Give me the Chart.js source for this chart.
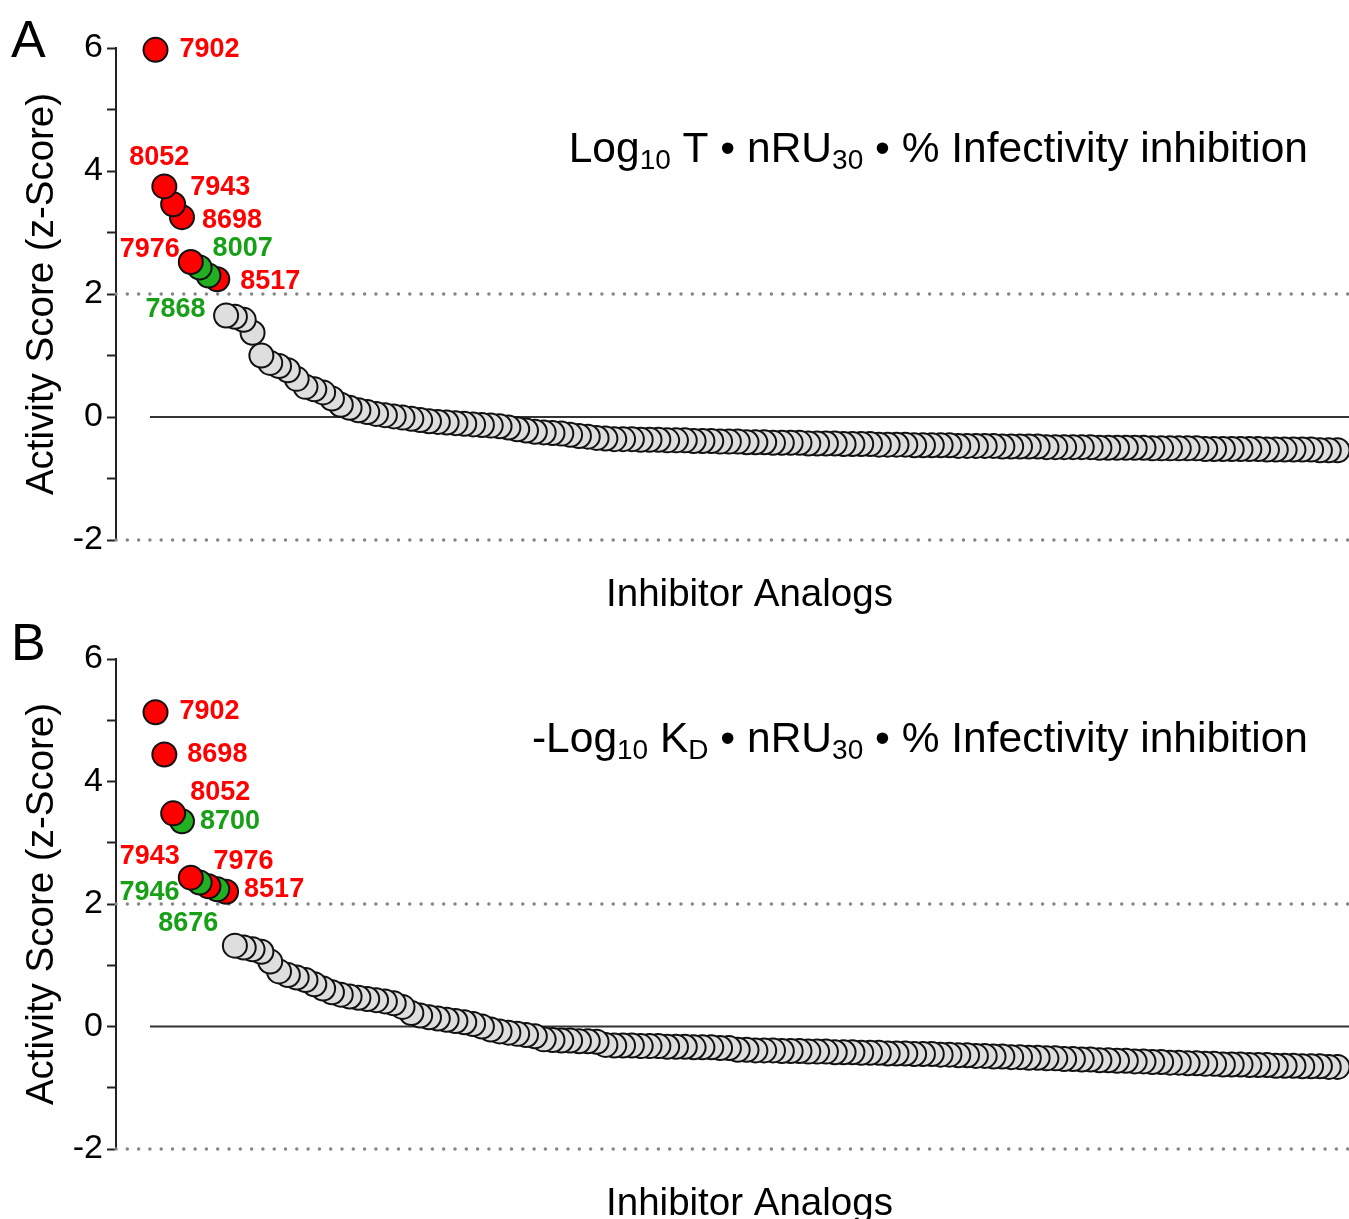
<!DOCTYPE html>
<html>
<head>
<meta charset="utf-8">
<script src="https://cdn.jsdelivr.net/npm/chart.js@4.4.1/dist/chart.umd.min.js"></script>
<style>
  html, body { margin: 0; padding: 0; background: #fff; overflow: hidden; width: 1349px; height: 1219px; }
  .panel { position: absolute; left: 0; display: block; }
  #panelA { top: 0; }
  #panelB { top: 610px; }
</style>
</head>
<body>
<canvas id="panelA" class="panel" width="1349" height="625"></canvas>
<canvas id="panelB" class="panel" width="1349" height="609"></canvas>
<script>
// ============================================================================
// DATA (z-scores, ranked high to low)
// ============================================================================

const scoresA = [
    5.97, 3.75, 3.46, 3.25, 2.52, 2.43, 2.30, 2.24,
    1.65, 1.63, 1.58, 1.37, 1.00, 0.88, 0.83, 0.76,
    0.62, 0.49, 0.45, 0.40, 0.30, 0.20, 0.15, 0.11,
    0.08, 0.05, 0.03, 0.01, -0.01, -0.03, -0.05, -0.07,
    -0.08, -0.09, -0.10, -0.11, -0.12, -0.13, -0.14, -0.15,
    -0.17, -0.20, -0.22, -0.24, -0.25, -0.26, -0.27, -0.29,
    -0.31, -0.32, -0.34, -0.35, -0.36,
    -0.36, -0.36, -0.37, -0.37, -0.37, -0.38, -0.38, -0.38, -0.39, -0.39,
    -0.39, -0.40, -0.40, -0.40, -0.41, -0.41, -0.41, -0.42, -0.42, -0.42,
    -0.42, -0.43, -0.43, -0.43, -0.43, -0.44, -0.44, -0.44, -0.44, -0.45,
    -0.45, -0.45, -0.45, -0.46, -0.46, -0.46, -0.46, -0.46, -0.47, -0.47,
    -0.47, -0.47, -0.47, -0.48, -0.48, -0.48, -0.48, -0.48, -0.49, -0.49,
    -0.49, -0.49, -0.49, -0.49, -0.50, -0.50, -0.50, -0.50, -0.50, -0.50,
    -0.51, -0.51, -0.51, -0.51, -0.51, -0.51, -0.52, -0.52, -0.52, -0.52,
    -0.52, -0.52, -0.52, -0.53, -0.53, -0.53, -0.53, -0.53, -0.53, -0.54, -0.54, -0.54
];

const scoresB = [
    5.13, 4.44, 3.48, 3.35, 2.43, 2.35, 2.29, 2.24, 2.20,
    1.32, 1.29, 1.26, 1.22, 1.06, 0.90, 0.84, 0.80, 0.76,
    0.69, 0.62, 0.56, 0.52, 0.49, 0.47, 0.45, 0.43, 0.41, 0.38,
    0.32, 0.22, 0.18, 0.15, 0.13, 0.11, 0.09, 0.07, 0.04, 0.00,
    -0.05, -0.08, -0.10, -0.12, -0.14, -0.16, -0.21,
    -0.22, -0.23, -0.23, -0.24, -0.24, -0.25,
    -0.30, -0.31, -0.31, -0.31, -0.32, -0.32, -0.32, -0.33, -0.33, -0.33, -0.34, -0.34, -0.34, -0.35, -0.35,
    -0.38, -0.38, -0.39, -0.39, -0.39, -0.40, -0.40, -0.40, -0.41, -0.41, -0.41, -0.42, -0.42,
    -0.42, -0.43, -0.43, -0.43, -0.44, -0.44, -0.44, -0.45, -0.45, -0.45, -0.46, -0.46, -0.47,
    -0.47, -0.48, -0.48, -0.49, -0.49, -0.50, -0.50, -0.51, -0.51, -0.52,
    -0.52, -0.53, -0.53, -0.54, -0.54, -0.55, -0.55, -0.56, -0.56, -0.57,
    -0.57, -0.58, -0.58, -0.59, -0.59, -0.60, -0.60, -0.61, -0.61, -0.62,
    -0.62, -0.62, -0.63, -0.63, -0.63, -0.64, -0.64, -0.64, -0.65, -0.65,
    -0.65, -0.66, -0.66
];

// top-ranked compounds (in rank order) and their group
const hitNamesA = ['7902', '8052', '7943', '8698', '7976', '8007', '7868', '8517'];
const hitGroupsA = ['red', 'red', 'red', 'red', 'red', 'green', 'green', 'red'];

const hitNamesB = ['7902', '8698', '8052', '8700', '7943', '7946', '7976', '8676', '8517'];
const hitGroupsB = ['red', 'red', 'red', 'green', 'red', 'green', 'red', 'green', 'red'];

const yMin = -2;
const yMax = 6;
const cutoffLines = [2, -2];

// ============================================================================
// STYLE
// ============================================================================

Chart.defaults.font.family = "'Liberation Sans', Arial, Helvetica, sans-serif";

const fills = { red: '#ff0000', green: '#22b022', gray: '#dedede' };
const labelColors = { red: '#ff0000', green: '#17a017' };

// label placement relative to its point: [dx, dy, align]
const labelPosA = [
    [24, 0, 'left'], [-5, -29, 'center'], [17, -17, 'left'], [20, 3, 'left'],
    [-11, -12, 'right'], [13, -19, 'left'], [-33, 34, 'center'], [23, 2, 'left']
];
const labelPosB = [
    [24, -1, 'left'], [23, 0, 'left'], [17, -21, 'left'], [18, 0, 'left'],
    [-11, -21, 'right'], [-20, 10, 'right'], [5, -25, 'left'], [-29, 34, 'center'],
    [18, -2, 'left']
];

const formulaA = [['Log', false], ['10', true], [' T • nRU', false], ['30', true], [' • % Infectivity inhibition', false]];
const formulaB = [['-Log', false], ['10', true], [' K', false], ['D', true], [' • nRU', false], ['30', true], [' • % Infectivity inhibition', false]];

// x scale: one unit per compound
const xMin = -4.48;
const xMax = 135.3;
const zeroLineStart = -0.63;

// ============================================================================
// TEXT PLUGIN (panel letter, formula, point labels, x title)
// ============================================================================

function drawFormula(ctx, parts, rightX, baseline) {
    const big = '42.5px ' + Chart.defaults.font.family;
    const small = '28px ' + Chart.defaults.font.family;
    let total = 0;
    parts.forEach(p => {
        ctx.font = p[1] ? small : big;
        total += ctx.measureText(p[0]).width;
    });
    let x = rightX - total;
    ctx.textAlign = 'left';
    ctx.textBaseline = 'alphabetic';
    ctx.fillStyle = '#000';
    parts.forEach(p => {
        ctx.font = p[1] ? small : big;
        ctx.fillText(p[0], x, baseline + (p[1] ? 7 : 0));
        x += ctx.measureText(p[0]).width;
    });
}

function textPlugin(cfg) {
    return {
        id: 'panelText',
        afterDatasetsDraw(chart) {
            const ctx = chart.ctx;
            const xs = chart.scales.x;
            const ys = chart.scales.y;
            ctx.save();

            // point labels
            ctx.font = 'bold 27px ' + Chart.defaults.font.family;
            ctx.textBaseline = 'middle';
            cfg.names.forEach((name, i) => {
                const pos = cfg.labelPos[i];
                ctx.fillStyle = labelColors[cfg.groups[i]];
                ctx.textAlign = pos[2];
                ctx.fillText(name, xs.getPixelForValue(i) + pos[0], ys.getPixelForValue(cfg.scores[i]) + pos[1]);
            });

            // panel letter
            ctx.fillStyle = '#000';
            ctx.font = '52px ' + Chart.defaults.font.family;
            ctx.textAlign = 'left';
            ctx.textBaseline = 'alphabetic';
            ctx.fillText(cfg.letter, 11, cfg.letterBase);

            // formula
            drawFormula(ctx, cfg.formula, 1308, cfg.formulaBase);

            // x axis title
            ctx.font = '38.5px ' + Chart.defaults.font.family;
            ctx.textAlign = 'center';
            ctx.textBaseline = 'middle';
            const cx = (xs.getPixelForValue(zeroLineStart) + xs.getPixelForValue(xMax)) / 2;
            ctx.fillText('Inhibitor Analogs', cx, cfg.xTitleY);

            ctx.restore();
        }
    };
}

// ============================================================================
// PANEL BUILDER
// ============================================================================

function makePanel(canvasId, scores, names, groups, labelPos, extra) {
    // reversed so that higher ranked circles sit on top
    const points = [];
    const colors = [];
    for (let i = scores.length - 1; i >= 0; i--) {
        points.push({ x: i, y: scores[i] });
        colors.push(i < groups.length ? fills[groups[i]] : fills.gray);
    }

    const refLines = cutoffLines.map(v => ({
        type: 'line',
        data: [{ x: xMin, y: v }, { x: xMax, y: v }],
        borderColor: '#858585',
        borderWidth: 3.5,
        borderDash: [0, 11.3],
        borderCapStyle: 'round',
        pointRadius: 0,
        clip: false
    }));

    new Chart(document.getElementById(canvasId), {
        type: 'scatter',
        data: {
            datasets: [
                {
                    data: points,
                    pointRadius: 12,
                    pointHoverRadius: 12,
                    pointBackgroundColor: colors,
                    pointBorderColor: '#111',
                    pointBorderWidth: 2,
                    clip: false
                },
                ...refLines,
                {
                    type: 'line',
                    data: [{ x: zeroLineStart, y: 0 }, { x: xMax, y: 0 }],
                    borderColor: '#333',
                    borderWidth: 2,
                    pointRadius: 0,
                    clip: false
                }
            ]
        },
        options: {
            responsive: false,
            animation: false,
            events: [],
            layout: {
                autoPadding: false,
                padding: { top: extra.padTop, bottom: extra.padBottom, left: 0, right: 0 }
            },
            plugins: {
                legend: { display: false },
                tooltip: { enabled: false }
            },
            scales: {
                x: { type: 'linear', display: false, min: xMin, max: xMax },
                y: {
                    min: yMin,
                    max: yMax,
                    afterFit: scale => { scale.width = 116; },
                    ticks: {
                        stepSize: 1,
                        autoSkip: false,
                        padding: 4,
                        color: '#000',
                        font: { size: 34 },
                        callback: v => (v % 2 === 0 ? String(v) : '')
                    },
                    grid: {
                        drawOnChartArea: false,
                        drawTicks: true,
                        tickLength: 9,
                        tickColor: '#222',
                        tickWidth: 2
                    },
                    border: { display: true, color: '#222', width: 2 },
                    title: {
                        display: true,
                        text: 'Activity Score (z-Score)',
                        color: '#000',
                        font: { size: 38.5 },
                        padding: { top: 19, bottom: 0 }
                    }
                }
            }
        },
        plugins: [textPlugin({
            names: names,
            groups: groups,
            scores: scores,
            labelPos: labelPos,
            letter: extra.letter,
            letterBase: extra.letterBase,
            formula: extra.formula,
            formulaBase: extra.formulaBase,
            xTitleY: extra.xTitleY
        })]
    });
}

makePanel('panelA', scoresA, hitNamesA, hitGroupsA, labelPosA, {
    padTop: 48, padBottom: 85, letter: 'A', letterBase: 57,
    formula: formulaA, formulaBase: 162, xTitleY: 595
});

makePanel('panelB', scoresB, hitNamesB, hitGroupsB, labelPosB, {
    padTop: 49, padBottom: 70, letter: 'B', letterBase: 50,
    formula: formulaB, formulaBase: 142, xTitleY: 594
});
</script>
</body>
</html>
